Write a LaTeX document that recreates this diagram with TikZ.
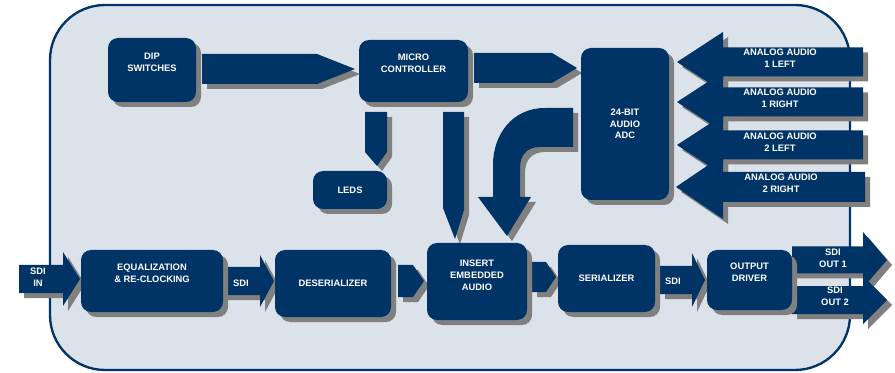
\documentclass[tikz,border=0pt]{standalone}
\usepackage{fontspec}
\setmainfont{Liberation Sans}

\definecolor{navy}{RGB}{0,51,102}
\definecolor{shgrey}{RGB}{128,128,128}
\definecolor{dotblue}{RGB}{220,226,234}

% block arrow (right or left): x start, x head, x tip, y centre, body half, head half
\newcommand{\barrow}[6]{%
  \foreach \col/\off in {shgrey/5, navy/0}
    \fill[\col, shift={(\off,\off)}] (#1,#4-#5) -- (#2,#4-#5) -- (#2,#4-#6) -- (#3,#4)
      -- (#2,#4+#6) -- (#2,#4+#5) -- (#1,#4+#5) -- cycle;}
% block with shadow: name, x, y, width, height, text
\newcommand{\blk}[6]{%
  \fill[shgrey, rounded corners=0.3cm] (#2-#4/2+5,#3-#5/2+5) rectangle (#2+#4/2+5,#3+#5/2+5);
  \node[box, minimum width=#4*0.03cm, minimum height=#5*0.03cm] (#1) at (#2,#3) {#6};}

\begin{document}
\begin{tikzpicture}[x=0.03cm, y=-0.03cm,
    every node/.style={font=\bfseries\fontsize{8}{10}\selectfont},
    box/.style={fill=navy, rounded corners=0.3cm, text=white, align=center, inner sep=0pt},
    lbl/.style={text=white, align=center}]

    \useasboundingbox (0,0) rectangle (895,373);

    % Frame
    \draw[navy, fill=dotblue, line width=2pt, rounded corners=1.65cm] (50,5) rectangle (850,370);

    % Control arrows
    \barrow{202}{317}{355}{69}{15}{15}
    \barrow{474}{552}{577}{68}{15}{15}
    \foreach \col/\off in {shgrey/5, navy/0} {
      \fill[\col, shift={(\off,\off)}] (365,112) -- (387,112) -- (387,152) -- (377,166) -- (365,152) -- cycle;
      \fill[\col, shift={(\off,\off)}] (443,112) -- (464,112) -- (464,210) -- (455,239) -- (443,208) -- cycle;
      \fill[\col, shift={(\off,\off)}] (573,108) -- (545,108) .. controls (512,108) and (493,135) .. (493,165)
        -- (493,197) -- (478,197) -- (507,236) -- (531,197) -- (520,197) -- (520,168)
        .. controls (520,155) and (527,147) .. (540,147) -- (573,147) -- cycle;
    }

    % Analog inputs
    \barrow{863}{723}{677}{62}{14.5}{30}
    \barrow{863}{723}{677}{102}{14.5}{30}
    \barrow{863}{723}{677}{145}{14.5}{30}
    \barrow{865}{723}{676}{187}{15}{32}

    % Video path arrows
    \barrow{19}{63}{80}{279}{14}{27}
    \barrow{223}{260}{274}{281}{14}{26}
    \barrow{398}{413}{424}{281}{16}{16}
    \barrow{532}{546}{556}{277}{15}{15}
    \barrow{660}{692}{705}{280}{14}{27}
    \barrow{792}{863}{887}{260}{13.5}{28}
    \barrow{792}{863}{887}{300}{14}{24}

    % Blocks
    \blk{dip}{152}{70}{88}{64}{DIP\\SWITCHES\\[3pt]}
    \blk{micro}{413.5}{71}{109}{62}{MICRO\\CONTROLLER\\[3pt]}
    \blk{leds}{350}{190}{74}{38}{LEDS}
    \blk{adc}{625}{124}{88}{152}{24-BIT\\AUDIO\\ADC}
    \blk{eq}{152}{281}{142}{62}{EQUALIZATION\\\& RE-CLOCKING\\[3pt]}
    \blk{deser}{333}{283.5}{116}{67}{\raisebox{-3pt}{DESERIALIZER}}
    \blk{insert}{477}{281.5}{100}{77}{INSERT\\EMBEDDED\\AUDIO\\[1pt]}
    \blk{ser}{606.5}{278.5}{97}{67}{\raisebox{-3pt}{SERIALIZER}}
    \blk{drv}{749.5}{280}{85}{60}{OUTPUT\\DRIVER\\[3pt]}

    % Text
    \node[lbl] (sdiin) at (38,277) {SDI\\IN};
    \node[lbl] (sdia) at (241,283) {SDI};
    \node[lbl] (sdib) at (673,281) {SDI};
    \node[lbl] (out1) at (833,258.5) {SDI\\OUT 1};
    \node[lbl] (out2) at (835,296.5) {SDI\\OUT 2};
    \node[lbl] (al) at (780,58) {ANALOG AUDIO\\1 LEFT};
    \node[lbl] (ar) at (780,98.5) {ANALOG AUDIO\\1 RIGHT};
    \node[lbl] (bl) at (780,142) {ANALOG AUDIO\\2 LEFT};
    \node[lbl] (br) at (781,183) {ANALOG AUDIO\\2 RIGHT};

\end{tikzpicture}
\end{document}
